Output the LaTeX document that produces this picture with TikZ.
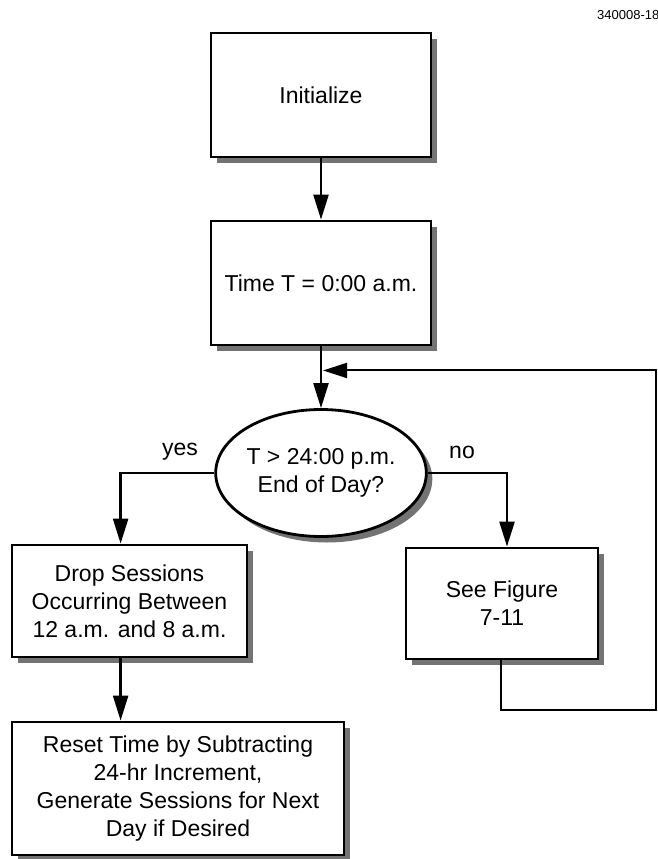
\documentclass[tikz,border=0pt]{standalone}
\usepackage{fontspec}
\setmainfont{Liberation Sans}
\usetikzlibrary{arrows.meta,shapes.geometric,shadows,calc}

\begin{document}
\begin{tikzpicture}[x=1pt,y=-1pt,
  shade box/.style={general shadow={fill=black!55, shadow xshift=6pt, shadow yshift=-6pt}},
  stepbox/.style={draw, line width=2.8pt, fill=white, align=center, inner sep=0pt,
    font=\fontsize{23}{28}\selectfont, shade box},
  decision/.style={stepbox, ellipse},
  flow/.style={line width=2.4pt, -{Triangle[length=25pt,width=15pt]}},
  loopline/.style={line width=2pt, -{Triangle[length=24pt,width=15pt]}},
  branch/.style={font=\fontsize{23}{28}\selectfont}
]
\useasboundingbox (0,0) rectangle (658,859);

% figure tag
\node[anchor=west, inner sep=0pt, font=\fontsize{13}{15}\selectfont] (tag) at (597,15) {340008-18};

% process steps
\node[stepbox, minimum width=220pt, minimum height=124pt] (init) at (321,95) {Initialize};
\node[stepbox, minimum width=220pt, minimum height=124pt] (time) at (321,283) {Time T = 0:00 a.m.};
\node[decision, minimum width=194pt, minimum height=127pt] (dec) at (321,473) {T > 24:00 p.m.\\End of Day?};
\node[stepbox, minimum width=235pt, minimum height=112pt] (drop) at (129.5,601) {Drop Sessions\\Occurring Between\\12 a.m. and 8 a.m.};
\node[stepbox, minimum width=192pt, minimum height=111pt] (see) at (502,603.5) {See Figure\\7-11};
\node[stepbox, minimum width=332pt, minimum height=133pt] (reset) at (178,788.5) {Reset Time by Subtracting\\24-hr Increment,\\Generate Sessions for Next\\Day if Desired};

% branch labels
\node[branch] (yes) at (180,452) {yes};
\node[branch] (no) at (462,452) {no};

% connectors
\draw[flow] (init.south) -- (time.north);
\draw[flow] (time.south) -- (dec.north);
\draw[flow] (dec.west) -| ([xshift=110pt]drop.north west);
\draw[flow] (dec.east) -| ([xshift=5pt]see.north);
\draw[flow] ([xshift=110pt]drop.south west) -- ([xshift=110pt]reset.north west);

% return loop back into the main line
\coordinate (joint) at ($(time.south)!0.39!(dec.north)$);
\coordinate (loopR) at (656,710);
\draw[loopline] ([xshift=-1pt]see.south) |- (loopR) |- ([xshift=2pt]joint);
\end{tikzpicture}
\end{document}
